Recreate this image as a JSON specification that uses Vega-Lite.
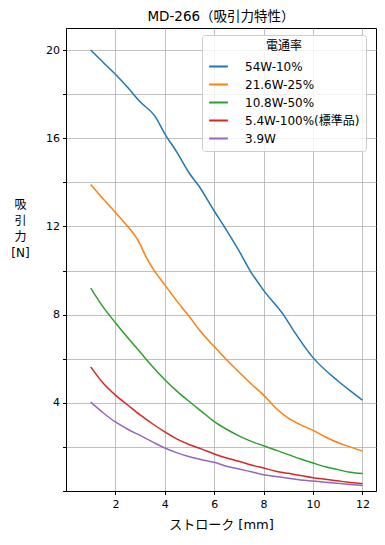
{
  "$schema": "https://vega.github.io/schema/vega-lite/v6.json",
  "width": 310,
  "height": 463,
  "autosize": "none",
  "padding": {"left": 66, "top": 28, "right": 9, "bottom": 54},
  "background": "white",
  "config": {
    "font": "DejaVu Sans, Noto Sans CJK JP",
    "view": {"stroke": "black", "strokeWidth": 1},
    "axis": {
      "domainColor": "black", "tickColor": "black", "tickSize": 3.5,
      "labelColor": "black", "titleColor": "black", "gridColor": "#b0b0b0",
      "gridWidth": 0.8, "labelFontSize": 11, "titleFontSize": 12, "titleFontWeight": "normal",
      "labelFont": "DejaVu Sans", "titleFont": "DejaVu Sans, Noto Sans CJK JP"
    }
  },
  "title": {"text": "MD-266（吸引力特性）", "fontSize": 13.5, "fontWeight": "normal", "offset": 5, "color": "black", "font": "DejaVu Sans, Noto Sans CJK JP"},
  "data": {"values": [
    {"s":"54W-10%","x":1,"y":20.0},{"s":"54W-10%","x":1.5,"y":19.45},{"s":"54W-10%","x":2,"y":18.9},{"s":"54W-10%","x":2.5,"y":18.3},{"s":"54W-10%","x":3,"y":17.65},{"s":"54W-10%","x":3.6,"y":17.0},{"s":"54W-10%","x":4,"y":16.2},{"s":"54W-10%","x":4.5,"y":15.35},{"s":"54W-10%","x":5,"y":14.4},{"s":"54W-10%","x":5.4,"y":13.8},{"s":"54W-10%","x":6,"y":12.7},{"s":"54W-10%","x":6.4,"y":12.0},{"s":"54W-10%","x":7,"y":10.9},{"s":"54W-10%","x":7.45,"y":10.0},{"s":"54W-10%","x":8,"y":9.1},{"s":"54W-10%","x":8.8,"y":8.0},{"s":"54W-10%","x":9.2,"y":7.3},{"s":"54W-10%","x":10,"y":6.05},{"s":"54W-10%","x":11,"y":5.0},{"s":"54W-10%","x":11.5,"y":4.55},{"s":"54W-10%","x":12,"y":4.12},
    {"s":"21.6W-25%","x":1,"y":13.9},{"s":"21.6W-25%","x":1.5,"y":13.25},{"s":"21.6W-25%","x":2,"y":12.63},{"s":"21.6W-25%","x":2.5,"y":12.0},{"s":"21.6W-25%","x":2.9,"y":11.4},{"s":"21.6W-25%","x":3.25,"y":10.6},{"s":"21.6W-25%","x":3.6,"y":9.95},{"s":"21.6W-25%","x":4,"y":9.35},{"s":"21.6W-25%","x":4.5,"y":8.6},{"s":"21.6W-25%","x":5,"y":7.9},{"s":"21.6W-25%","x":5.4,"y":7.3},{"s":"21.6W-25%","x":6,"y":6.55},{"s":"21.6W-25%","x":6.5,"y":5.95},{"s":"21.6W-25%","x":7,"y":5.4},{"s":"21.6W-25%","x":7.5,"y":4.85},{"s":"21.6W-25%","x":8,"y":4.35},{"s":"21.6W-25%","x":8.5,"y":3.75},{"s":"21.6W-25%","x":9,"y":3.3},{"s":"21.6W-25%","x":9.5,"y":3.0},{"s":"21.6W-25%","x":10,"y":2.75},{"s":"21.6W-25%","x":10.5,"y":2.45},{"s":"21.6W-25%","x":11,"y":2.2},{"s":"21.6W-25%","x":11.5,"y":2.0},{"s":"21.6W-25%","x":12,"y":1.81},
    {"s":"10.8W-50%","x":1,"y":9.2},{"s":"10.8W-50%","x":1.5,"y":8.35},{"s":"10.8W-50%","x":2,"y":7.63},{"s":"10.8W-50%","x":2.5,"y":6.95},{"s":"10.8W-50%","x":3,"y":6.3},{"s":"10.8W-50%","x":3.5,"y":5.65},{"s":"10.8W-50%","x":4,"y":5.05},{"s":"10.8W-50%","x":4.5,"y":4.52},{"s":"10.8W-50%","x":5,"y":4.05},{"s":"10.8W-50%","x":5.5,"y":3.6},{"s":"10.8W-50%","x":6,"y":3.15},{"s":"10.8W-50%","x":6.5,"y":2.8},{"s":"10.8W-50%","x":7,"y":2.5},{"s":"10.8W-50%","x":7.5,"y":2.25},{"s":"10.8W-50%","x":8,"y":2.05},{"s":"10.8W-50%","x":8.5,"y":1.85},{"s":"10.8W-50%","x":9,"y":1.65},{"s":"10.8W-50%","x":9.5,"y":1.45},{"s":"10.8W-50%","x":10,"y":1.27},{"s":"10.8W-50%","x":10.5,"y":1.1},{"s":"10.8W-50%","x":11,"y":0.97},{"s":"10.8W-50%","x":11.5,"y":0.85},{"s":"10.8W-50%","x":12,"y":0.79},
    {"s":"5.4W-100%(標準品)","x":1,"y":5.63},{"s":"5.4W-100%(標準品)","x":1.5,"y":4.9},{"s":"5.4W-100%(標準品)","x":2,"y":4.35},{"s":"5.4W-100%(標準品)","x":2.5,"y":3.9},{"s":"5.4W-100%(標準品)","x":3,"y":3.45},{"s":"5.4W-100%(標準品)","x":3.5,"y":3.05},{"s":"5.4W-100%(標準品)","x":4,"y":2.68},{"s":"5.4W-100%(標準品)","x":4.5,"y":2.35},{"s":"5.4W-100%(標準品)","x":5,"y":2.1},{"s":"5.4W-100%(標準品)","x":5.5,"y":1.9},{"s":"5.4W-100%(標準品)","x":6,"y":1.68},{"s":"5.4W-100%(標準品)","x":6.5,"y":1.5},{"s":"5.4W-100%(標準品)","x":7,"y":1.35},{"s":"5.4W-100%(標準品)","x":7.5,"y":1.18},{"s":"5.4W-100%(標準品)","x":8,"y":1.04},{"s":"5.4W-100%(標準品)","x":8.5,"y":0.9},{"s":"5.4W-100%(標準品)","x":9,"y":0.8},{"s":"5.4W-100%(標準品)","x":9.5,"y":0.7},{"s":"5.4W-100%(標準品)","x":10,"y":0.6},{"s":"5.4W-100%(標準品)","x":10.5,"y":0.53},{"s":"5.4W-100%(標準品)","x":11,"y":0.46},{"s":"5.4W-100%(標準品)","x":11.5,"y":0.39},{"s":"5.4W-100%(標準品)","x":12,"y":0.33},
    {"s":"3.9W","x":1,"y":4.03},{"s":"3.9W","x":1.5,"y":3.55},{"s":"3.9W","x":2,"y":3.13},{"s":"3.9W","x":2.5,"y":2.8},{"s":"3.9W","x":3,"y":2.52},{"s":"3.9W","x":3.5,"y":2.23},{"s":"3.9W","x":4,"y":1.95},{"s":"3.9W","x":4.5,"y":1.73},{"s":"3.9W","x":5,"y":1.55},{"s":"3.9W","x":5.5,"y":1.42},{"s":"3.9W","x":6,"y":1.3},{"s":"3.9W","x":6.5,"y":1.12},{"s":"3.9W","x":7,"y":1.0},{"s":"3.9W","x":7.5,"y":0.87},{"s":"3.9W","x":8,"y":0.74},{"s":"3.9W","x":8.5,"y":0.66},{"s":"3.9W","x":9,"y":0.58},{"s":"3.9W","x":9.5,"y":0.5},{"s":"3.9W","x":10,"y":0.45},{"s":"3.9W","x":10.5,"y":0.4},{"s":"3.9W","x":11,"y":0.35},{"s":"3.9W","x":11.5,"y":0.3},{"s":"3.9W","x":12,"y":0.25}
  ]},
  "mark": {"type": "line", "strokeWidth": 1.5, "interpolate": "monotone"},
  "encoding": {
    "x": {"field": "x", "type": "quantitative",
      "scale": {"domain": [0, 12.55], "nice": false, "zero": false},
      "axis": {"values": [2,4,6,8,10,12], "title": "ストローク [mm]", "titleFontSize": 13, "titlePadding": 9, "labelPadding": 4, "grid": true}},
    "y": {"field": "y", "type": "quantitative",
      "scale": {"domain": [0, 21], "nice": false},
      "axis": {"values": [0,2,4,6,8,10,12,14,16,18,20],
        "labelExpr": "datum.value % 4 == 0 && datum.value > 0 ? datum.label : ''",
        "title": ["吸","引","力","[N]"], "titleAngle": 0, "titleAlign": "center", "titleBaseline": "middle",
        "titleX": -46, "titleY": 176, "titleLineHeight": 16, "labelPadding": 3, "grid": true}},
    "color": {"field": "s", "type": "nominal",
      "scale": {"domain": ["54W-10%","21.6W-25%","10.8W-50%","5.4W-100%(標準品)","3.9W"],
        "range": ["#1f77b4","#ff7f0e","#2ca02c","#d62728","#9467bd"]},
      "legend": {"title": "電通率", "orient": "none", "legendX": 136, "legendY": 7,
        "titleAnchor": "middle", "titleFontSize": 12, "titleFontWeight": "normal", "titleColor": "black",
        "titleFont": "DejaVu Sans, Noto Sans CJK JP", "labelFont": "DejaVu Sans, Noto Sans CJK JP",
        "labelFontSize": 12, "labelColor": "black", "symbolType": "stroke", "symbolSize": 350,
        "symbolStrokeWidth": 2, "rowPadding": 1, "titlePadding": 3, "labelOffset": 16,
        "fillColor": "rgba(255,255,255,0.8)", "strokeColor": "#cccccc", "cornerRadius": 3, "padding": 6}}
  }
}
